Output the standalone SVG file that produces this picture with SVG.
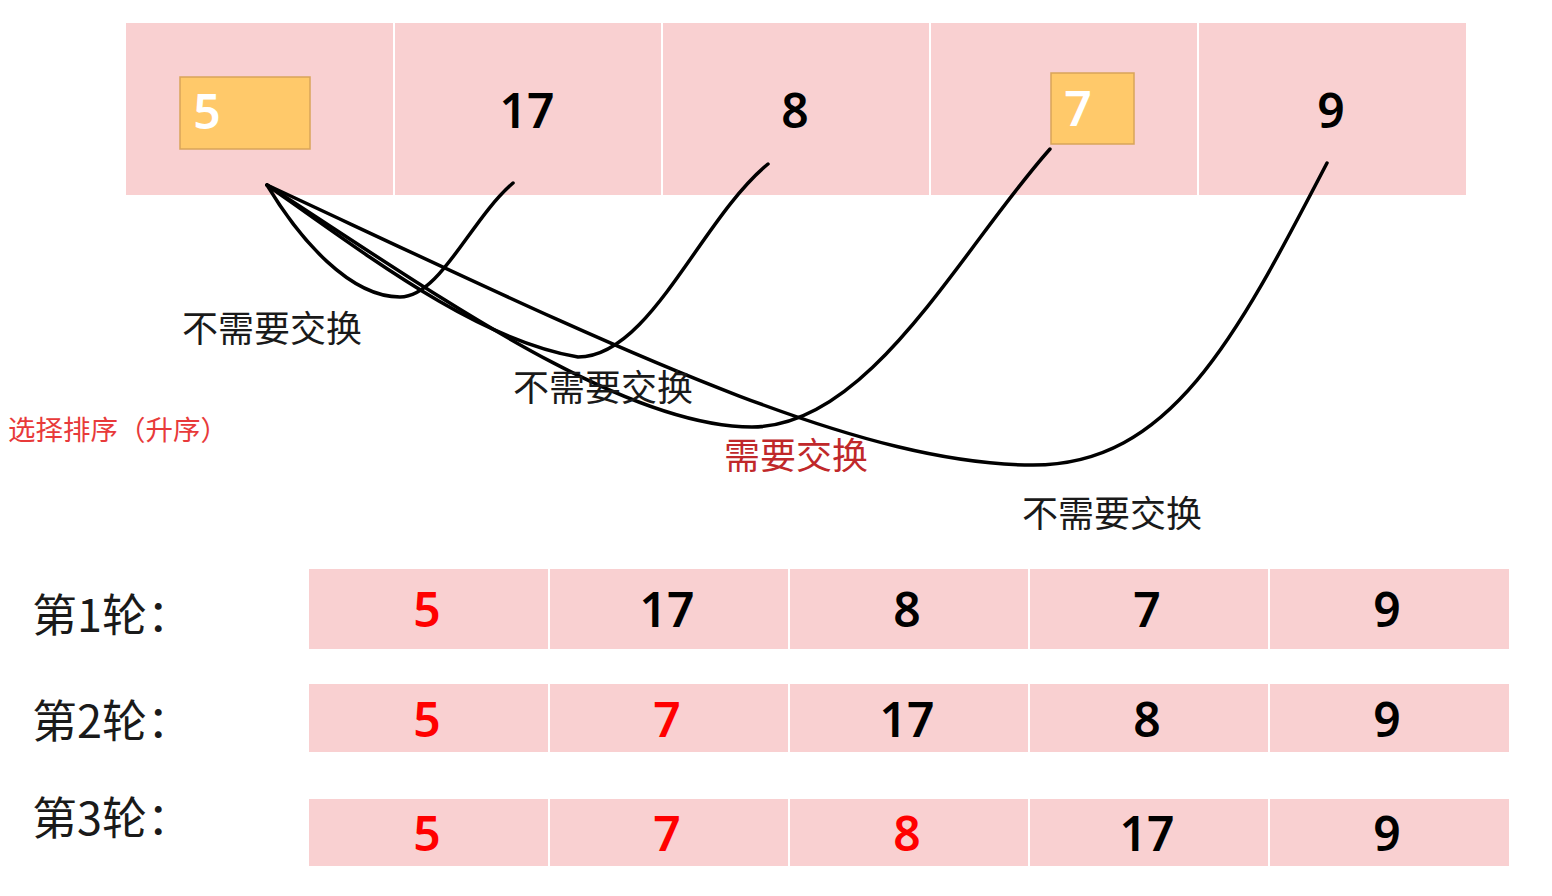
<svg xmlns="http://www.w3.org/2000/svg" width="1552" height="896" viewBox="0 0 1552 896">
<style>
.cell{fill:#f9d0d1;}
.div{stroke:#ffffff;stroke-width:2;}
.num{font-family:"Noto Sans","Liberation Sans",sans-serif;font-size:48px;font-weight:600;text-anchor:middle;fill:#000;}
.red{fill:#ff0000;}
.white{fill:#ffffff;}
.hl{fill:#ffc96a;stroke:#d9a45a;stroke-width:1.5;}
.lbl{font-family:"Noto Sans CJK SC","Noto Sans",sans-serif;font-size:36px;fill:#1a1a1a;}
.round{font-family:"Noto Sans CJK SC","Noto Sans",sans-serif;font-size:45px;fill:#1a1a1a;}
.title{font-family:"Noto Sans CJK SC",sans-serif;font-size:27.5px;fill:#e83a3a;}
.curve{fill:none;stroke:#000;stroke-width:3.5;stroke-linecap:round;}
</style>
<rect width="1552" height="896" fill="#ffffff"/>

<g id="top-array">
  <rect class="cell" x="126" y="23" width="1340" height="172"/>
  <line class="div" x1="394" y1="23" x2="394" y2="195"/>
  <line class="div" x1="662" y1="23" x2="662" y2="195"/>
  <line class="div" x1="930" y1="23" x2="930" y2="195"/>
  <line class="div" x1="1198" y1="23" x2="1198" y2="195"/>
</g>
<g id="top-5">
  <rect class="hl" x="180" y="77" width="130" height="72"/>
  <text class="num white" x="207" y="129">5</text>
</g>
<g id="top-17"><text class="num" x="527" y="128">17</text></g>
<g id="top-8"><text class="num" x="795" y="128">8</text></g>
<g id="top-7">
  <rect class="hl" x="1051" y="73" width="83" height="71"/>
  <text class="num white" x="1078" y="126">7</text>
</g>
<g id="top-9"><text class="num" x="1331" y="128">9</text></g>

<g id="connectors">
  <path class="curve" d="M267,185 C300,240 350,297 400,297 C440,297 470,220 513,183"/>
  <path class="curve" d="M267,185 C380,265 480,340 578,357 C650,357 700,220 768,164"/>
  <path class="curve" d="M267,185 C430,290 620,427 752,427 C870,427 960,250 1050,149"/>
  <path class="curve" d="M267,185 C600,340 850,465 1033,465 C1170,465 1235,340 1327,163"/>
</g>

<g id="labels">
  <text class="lbl" x="182" y="342">不需要交换</text>
  <text class="lbl" x="513" y="401">不需要交换</text>
  <text class="lbl" x="724" y="469" style="fill:#c0282a">需要交换</text>
  <text class="lbl" x="1022" y="527">不需要交换</text>
  <text class="title" x="8" y="440">选择排序（升序）</text>
</g>

<g id="round1">
  <text class="round" x="32" y="632">第1轮：</text>
  <rect class="cell" x="309" y="569" width="1200" height="80"/>
  <line class="div" x1="549" y1="569" x2="549" y2="649"/>
  <line class="div" x1="789" y1="569" x2="789" y2="649"/>
  <line class="div" x1="1029" y1="569" x2="1029" y2="649"/>
  <line class="div" x1="1269" y1="569" x2="1269" y2="649"/>
  <text class="num red" x="427" y="627">5</text>
  <text class="num" x="667" y="627">17</text>
  <text class="num" x="907" y="627">8</text>
  <text class="num" x="1147" y="627">7</text>
  <text class="num" x="1387" y="627">9</text>
</g>
<g id="round2">
  <text class="round" x="32" y="738">第2轮：</text>
  <rect class="cell" x="309" y="684" width="1200" height="68"/>
  <line class="div" x1="549" y1="684" x2="549" y2="752"/>
  <line class="div" x1="789" y1="684" x2="789" y2="752"/>
  <line class="div" x1="1029" y1="684" x2="1029" y2="752"/>
  <line class="div" x1="1269" y1="684" x2="1269" y2="752"/>
  <text class="num red" x="427" y="737">5</text>
  <text class="num red" x="667" y="737">7</text>
  <text class="num" x="907" y="737">17</text>
  <text class="num" x="1147" y="737">8</text>
  <text class="num" x="1387" y="737">9</text>
</g>
<g id="round3">
  <text class="round" x="32" y="835">第3轮：</text>
  <rect class="cell" x="309" y="799" width="1200" height="67"/>
  <line class="div" x1="549" y1="799" x2="549" y2="866"/>
  <line class="div" x1="789" y1="799" x2="789" y2="866"/>
  <line class="div" x1="1029" y1="799" x2="1029" y2="866"/>
  <line class="div" x1="1269" y1="799" x2="1269" y2="866"/>
  <text class="num red" x="427" y="851">5</text>
  <text class="num red" x="667" y="851">7</text>
  <text class="num red" x="907" y="851">8</text>
  <text class="num" x="1147" y="851">17</text>
  <text class="num" x="1387" y="851">9</text>
</g>
</svg>
